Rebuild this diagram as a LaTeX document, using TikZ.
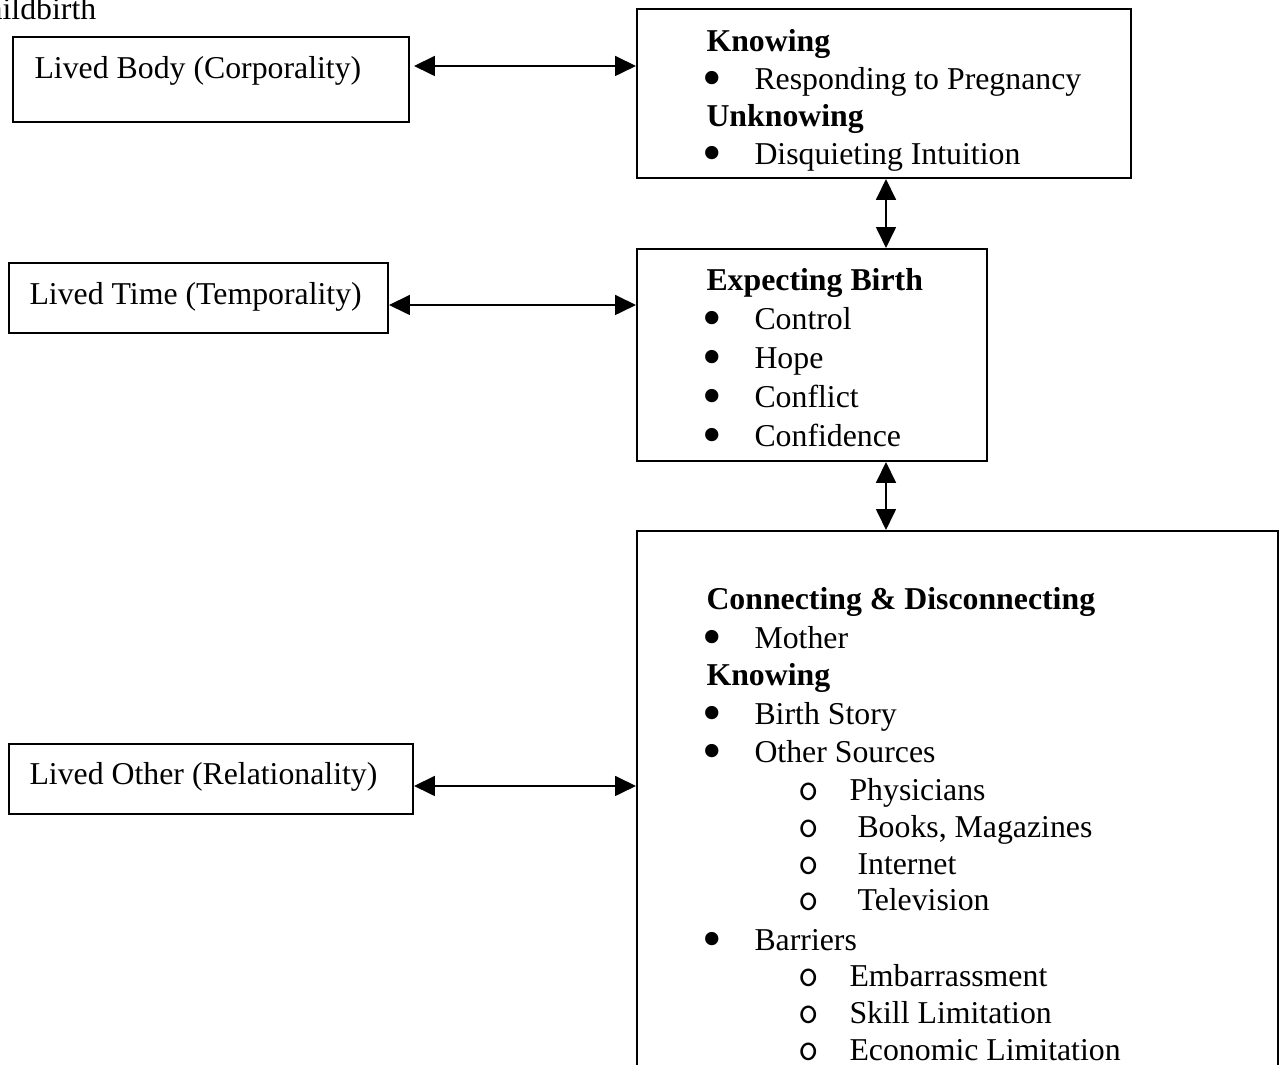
\documentclass[tikz,border=0pt]{standalone}
\usepackage{fontspec}
\setmainfont{Liberation Serif}
\usetikzlibrary{arrows.meta,calc}
\newlength\pxu
\setlength\pxu{0.3774pt}
\begin{document}
\begin{tikzpicture}[x=0.3774pt, y=-0.3774pt,
  box/.style={draw, line width=0.75pt, inner sep=0pt, anchor=north west},
  txt/.style={anchor=base west, inner sep=0pt, font=\fontsize{12}{14}\selectfont},
  hd/.style={anchor=base west, inner sep=0pt, font=\fontsize{12}{14}\selectfont\bfseries},
  bul/.style={anchor=base, inner sep=0pt, text height=3pt, text depth=0pt, font=\fontsize{21}{21}\selectfont},
  subm/.style={anchor=base, inner sep=0pt, font=\fontsize{15}{15}\selectfont\ttfamily},
  arr/.style={line width=0.75pt, {Triangle[length=7.9pt, width=7.5pt]}-{Triangle[length=7.9pt, width=7.5pt]}}
]
\useasboundingbox (0,0) rectangle (1279,1065);
\clip (0,0) rectangle (1279,1065);

% title fragment
\node[txt] (title) at (-35,20) {Childbirth};

% boxes
\node[box, minimum width=396\pxu, minimum height=85\pxu] (body) at (12,36) {};
\node[box, minimum width=494\pxu, minimum height=169\pxu] (know) at (636,8) {};
\node[box, minimum width=350\pxu, minimum height=212\pxu] (expect) at (636,248) {};
\node[box, minimum width=379\pxu, minimum height=70\pxu] (time) at (8,262) {};
\node[box, minimum width=641\pxu, minimum height=600\pxu] (conn) at (636,530) {};
\node[box, minimum width=404\pxu, minimum height=70\pxu] (other) at (8,743) {};

% left labels
\node[txt] (tbody) at (34,79) {Lived Body (Corporality)};
\node[txt] (ttime) at (29,305) {Lived Time (Temporality)};
\node[txt] (tother) at (29,785) {Lived Other (Relationality)};

% box 2
\node[hd] (k1) at (706,52) {Knowing};
\node[bul] (k2b) at (712,97) {•};
\node[txt] (k2) at (754,90) {Responding to Pregnancy};
\node[hd] (k3) at (706,127) {Unknowing};
\node[bul] (k4b) at (712,172) {•};
\node[txt] (k4) at (754,165) {Disquieting Intuition};

% box 3
\node[hd] (e1) at (706,291) {Expecting Birth};
\node[bul] (e2b) at (712,337) {•};
\node[txt] (e2) at (754,330) {Control};
\node[bul] (e3b) at (712,376) {•};
\node[txt] (e3) at (754,369) {Hope};
\node[bul] (e4b) at (712,415) {•};
\node[txt] (e4) at (754,408) {Conflict};
\node[bul] (e5b) at (712,454) {•};
\node[txt] (e5) at (754,447) {Confidence};

% box 5
\node[hd] (c1) at (706,610) {Connecting \& Disconnecting};
\node[bul] (c2b) at (712,656) {•};
\node[txt] (c2) at (754,649) {Mother};
\node[hd] (c3) at (706,686) {Knowing};
\node[bul] (c4b) at (712,732) {•};
\node[txt] (c4) at (754,725) {Birth Story};
\node[bul] (c5b) at (712,770) {•};
\node[txt] (c5) at (754,763) {Other Sources};
\node[subm] (c6o) at (809,801) {o};
\node[txt] (c6) at (849,801) {Physicians};
\node[subm] (c7o) at (809,838) {o};
\node[txt] (c7) at (857,838) {Books, Magazines};
\node[subm] (c8o) at (809,875) {o};
\node[txt] (c8) at (857,875) {Internet};
\node[subm] (c9o) at (809,911) {o};
\node[txt] (c9) at (857,911) {Television};
\node[bul] (c10b) at (712,958) {•};
\node[txt] (c10) at (754,951) {Barriers};
\node[subm] (c11o) at (809,987) {o};
\node[txt] (c11) at (849,987) {Embarrassment};
\node[subm] (c12o) at (809,1024) {o};
\node[txt] (c12) at (849,1024) {Skill Limitation};
\node[subm] (c13o) at (809,1061) {o};
\node[txt] (c13) at (849,1061) {Economic Limitation};

% connectors
\coordinate (a1) at ($(body.north east)+(4,30)$);
\draw[arr] (a1) -- (a1 -| know.west);
\coordinate (a2) at ($(time.north east)+(0,43)$);
\draw[arr] (a2) -- (a2 -| expect.west);
\coordinate (a3) at ($(other.north east)+(0,43)$);
\draw[arr] (a3) -- (a3 -| conn.west);
\coordinate (vx) at ($(expect.north west)+(250,0)$);
\draw[arr] (vx |- know.south) -- (vx |- expect.north);
\draw[arr] (vx |- expect.south) -- (vx |- conn.north);
\end{tikzpicture}
\end{document}
